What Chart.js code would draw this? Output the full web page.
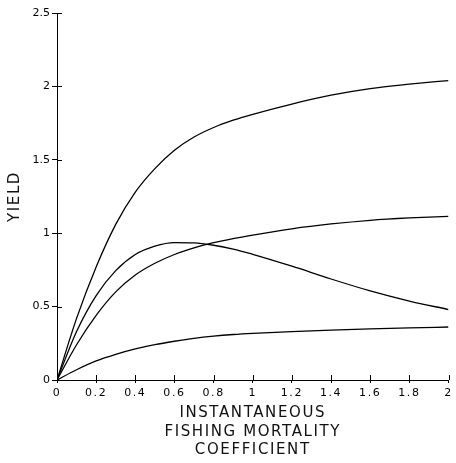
<!DOCTYPE html>
<html>
<head>
<meta charset="utf-8">
<script src="https://cdn.jsdelivr.net/npm/chart.js@4/dist/chart.umd.min.js"></script>
<style>
  html, body { margin: 0; padding: 0; background: #ffffff; }
  #wrap { width: 456px; height: 463px; }
</style>
</head>
<body>
<div id="wrap"><canvas id="chart" width="456" height="463"></canvas></div>
<script>
// Instantaneous fishing mortality coefficient (F)
const fishingMortality = [0, 0.1, 0.2, 0.3, 0.4, 0.5, 0.6, 0.7, 0.8, 0.9, 1.0, 1.2, 1.4, 1.6, 1.8, 2.0];

// Yield curves
const yieldHigh   = [0, 0.42, 0.77, 1.06, 1.28, 1.44, 1.565, 1.655, 1.72, 1.77, 1.81, 1.88, 1.94, 1.985, 2.015, 2.04];
const yieldDome   = [0, 0.33, 0.575, 0.745, 0.855, 0.912, 0.936, 0.934, 0.918, 0.892, 0.856, 0.775, 0.688, 0.607, 0.538, 0.48];
const yieldMiddle = [0, 0.24, 0.44, 0.60, 0.715, 0.795, 0.855, 0.90, 0.935, 0.963, 0.987, 1.03, 1.063, 1.088, 1.104, 1.115];
const yieldLow    = [0, 0.07, 0.13, 0.175, 0.212, 0.241, 0.264, 0.284, 0.299, 0.31, 0.318, 0.33, 0.34, 0.348, 0.355, 0.361];

// Axis settings
const xTitleLines = ['INSTANTANEOUS', 'FISHING MORTALITY', 'COEFFICIENT'];
const yTitle = 'YIELD';
const xRange = [0, 2];
const yRange = [0, 2.5];
const xStep = 0.2;
const yStep = 0.5;

const toPoints = ys => fishingMortality.map((f, i) => ({ x: f, y: ys[i] }));
const series = [yieldHigh, yieldDome, yieldMiddle, yieldLow];

const fmt = v => String(+Number(v).toFixed(1));

// Titles use a slightly spaced lettering; tick labels are drawn later with none.
const letterSpacingPlugin = {
  id: 'letterSpacing',
  beforeDraw(chart) { chart.ctx.letterSpacing = '1.6px'; },
  beforeDatasetsDraw(chart) { chart.ctx.letterSpacing = '0px'; }
};

// Tick marks that cross the axis line into the plot area
const innerTicksPlugin = {
  id: 'innerTicks',
  afterDraw(chart) {
    const ctx = chart.ctx;
    const xs = chart.scales.x, ys = chart.scales.y;
    const area = chart.chartArea;
    ctx.save();
    ctx.strokeStyle = '#000';
    ctx.lineWidth = 1;
    ctx.beginPath();
    xs.ticks.forEach(t => {
      const px = Math.round(xs.getPixelForValue(t.value)) + 0.5;
      ctx.moveTo(px, area.bottom);
      ctx.lineTo(px, area.bottom - 5);
    });
    ys.ticks.forEach(t => {
      const py = Math.round(ys.getPixelForValue(t.value)) + 0.5;
      ctx.moveTo(area.left, py);
      ctx.lineTo(area.left + 5, py);
    });
    ctx.stroke();
    ctx.restore();
  }
};

new Chart(document.getElementById('chart'), {
  type: 'line',
  data: {
    datasets: series.map(ys => ({
      data: toPoints(ys),
      borderColor: '#000',
      borderWidth: 1.3,
      pointRadius: 0,
      fill: false,
      cubicInterpolationMode: 'monotone'
    }))
  },
  options: {
    responsive: false,
    animation: false,
    events: [],
    layout: { padding: { top: 13, right: 5, bottom: 3, left: 0 } },
    plugins: { legend: { display: false }, tooltip: { enabled: false } },
    scales: {
      x: {
        type: 'linear',
        min: xRange[0], max: xRange[1],
        afterFit(s) { s.height = 80; },
        border: { display: true, color: '#000', width: 1 },
        grid: { drawOnChartArea: false, drawTicks: true, tickLength: 3, color: '#000' },
        ticks: {
          stepSize: xStep,
          color: '#000',
          padding: 4,
          maxRotation: 0,
          autoSkip: false,
          font: { family: 'DejaVu Sans', size: 11 },
          callback: v => fmt(v)
        },
        title: {
          display: true,
          text: xTitleLines,
          color: '#111',
          padding: { top: 0, bottom: 0 },
          font: { family: 'DejaVu Sans', size: 15, weight: 'normal', lineHeight: 1.26 }
        }
      },
      y: {
        type: 'linear',
        min: yRange[0], max: yRange[1],
        afterFit(s) { s.width = 57; },
        border: { display: true, color: '#000', width: 1 },
        grid: { drawOnChartArea: false, drawTicks: true, tickLength: 5, color: '#000' },
        ticks: {
          stepSize: yStep,
          color: '#000',
          padding: 2,
          z: 1,
          font: { family: 'DejaVu Sans', size: 11 },
          callback: v => fmt(v)
        },
        title: {
          display: true,
          text: yTitle,
          color: '#111',
          padding: { top: 5.5, bottom: 0 },
          font: { family: 'DejaVu Sans', size: 15, weight: 'normal', lineHeight: 1.26 }
        }
      }
    }
  },
  plugins: [letterSpacingPlugin, innerTicksPlugin]
});
</script>
</body>
</html>
